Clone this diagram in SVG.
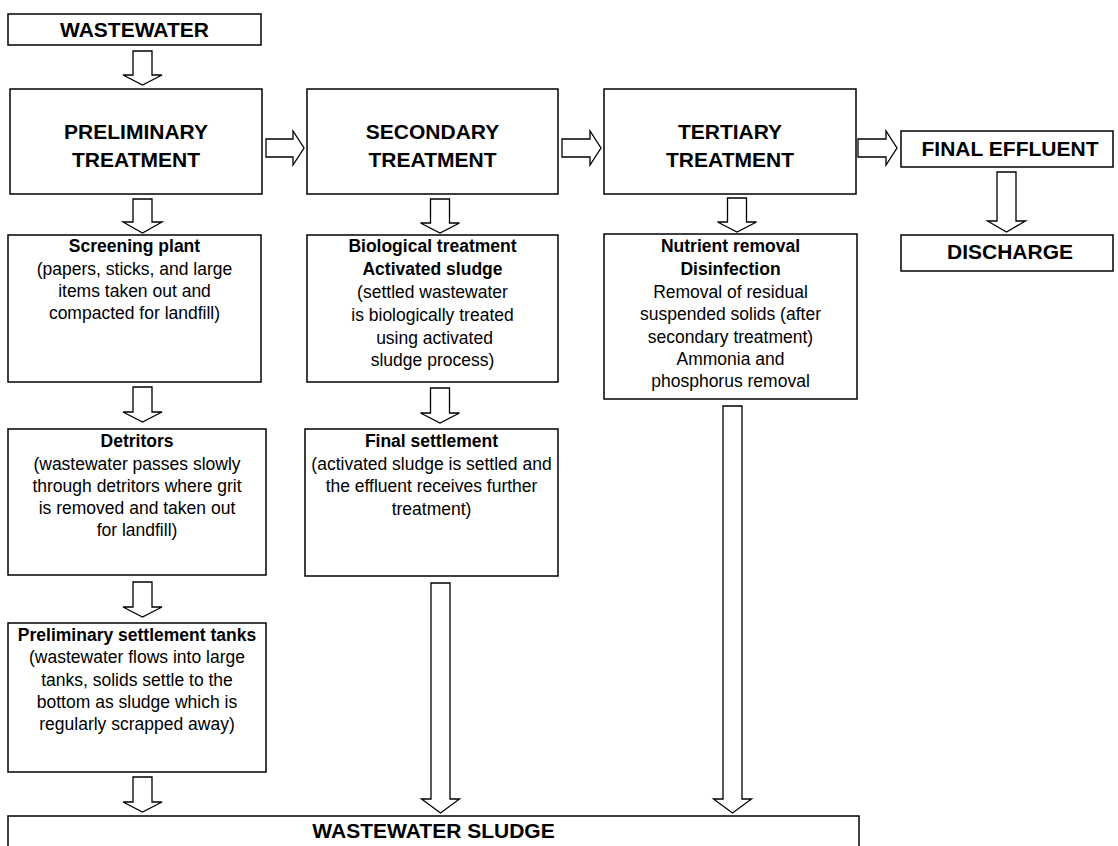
<svg xmlns="http://www.w3.org/2000/svg" width="1118" height="846" viewBox="0 0 1118 846">
<style>
.box{fill:#fff;stroke:#000;stroke-width:1.5}
.arr{fill:#fff;stroke:#000;stroke-width:1.3;stroke-linejoin:miter}
text{font-family:"Liberation Sans",Arial,sans-serif;fill:#000;text-anchor:middle}
.h{font-size:21px;font-weight:bold}
.b{font-size:17.5px;font-weight:bold}
.n{font-size:17.5px}
</style>
<rect width="1118" height="846" fill="#fff"/>
<g id="connectors">
<polygon class="arr" points="133,51 152,51 152,75 162,75 142.5,85 123,75 133,75"/>
<polygon class="arr" points="133,199 152,199 152,222 162,222 142.5,233 123,222 133,222"/>
<polygon class="arr" points="133,387 152,387 152,412 162,412 142.5,422 123,412 133,412"/>
<polygon class="arr" points="133,582 152,582 152,607 162,607 142.5,617 123,607 133,607"/>
<polygon class="arr" points="133,777 152,777 152,802 162,802 142.5,812 123,802 133,802"/>
<polygon class="arr" points="430.5,199 449.5,199 449.5,223 459.5,223 440,233 420.5,223 430.5,223"/>
<polygon class="arr" points="430.5,388 449.5,388 449.5,413 459.5,413 440,423 420.5,413 430.5,413"/>
<polygon class="arr" points="431,583 450,583 450,799 459.5,799 440.5,813 421.5,799 431,799"/>
<polygon class="arr" points="727.5,198 746.5,198 746.5,222 756.5,222 737,232 717.5,222 727.5,222"/>
<polygon class="arr" points="723,406 742,406 742,799 751.5,799 732.5,813 713.5,799 723,799"/>
<polygon class="arr" points="997,172 1016,172 1016,221 1025.5,221 1006.5,232 987.5,221 997,221"/>
<polygon class="arr" points="266,139 293,139 293,131 304,148 293,165 293,157 266,157"/>
<polygon class="arr" points="562,139 590,139 590,131 601,148 590,165 590,157 562,157"/>
<polygon class="arr" points="858,139 886,139 886,131 897,148 886,165 886,157 858,157"/>
</g>
<g id="wastewater">
<rect class="box" x="8" y="14" width="253" height="31"/>
<text class="h" x="134.5" y="37">WASTEWATER</text>
</g>
<g id="preliminary">
<rect class="box" x="10" y="89" width="252" height="105"/>
<text class="h" x="136" y="139">PRELIMINARY</text>
<text class="h" x="136" y="167">TREATMENT</text>
</g>
<g id="secondary">
<rect class="box" x="307" y="89" width="251" height="105"/>
<text class="h" x="432.5" y="139">SECONDARY</text>
<text class="h" x="432.5" y="167">TREATMENT</text>
</g>
<g id="tertiary">
<rect class="box" x="604" y="89" width="252" height="105"/>
<text class="h" x="730" y="139">TERTIARY</text>
<text class="h" x="730" y="167">TREATMENT</text>
</g>
<g id="final-effluent">
<rect class="box" x="901" y="131" width="212" height="36"/>
<text class="h" x="1010" y="156">FINAL EFFLUENT</text>
</g>
<g id="discharge">
<rect class="box" x="901" y="235" width="212" height="36"/>
<text class="h" x="1010" y="259">DISCHARGE</text>
</g>
<g id="screening">
<rect class="box" x="8" y="235" width="253" height="147"/>
<text class="b" x="134.5" y="252">Screening plant</text>
<text class="n" x="134.5" y="275">(papers, sticks, and large</text>
<text class="n" x="134.5" y="297">items taken out and</text>
<text class="n" x="134.5" y="319">compacted for landfill)</text>
</g>
<g id="detritors">
<rect class="box" x="8" y="429" width="258" height="146"/>
<text class="b" x="137" y="447">Detritors</text>
<text class="n" x="137" y="470">(wastewater passes slowly</text>
<text class="n" x="137" y="492">through detritors where grit</text>
<text class="n" x="137" y="514">is removed and taken out</text>
<text class="n" x="137" y="536">for landfill)</text>
</g>
<g id="preliminary-settlement">
<rect class="box" x="8" y="623" width="258" height="149"/>
<text class="b" x="137" y="641">Preliminary settlement tanks</text>
<text class="n" x="137" y="663">(wastewater flows into large</text>
<text class="n" x="137" y="686">tanks, solids settle to the</text>
<text class="n" x="137" y="708">bottom as sludge which is</text>
<text class="n" x="137" y="730">regularly scrapped away)</text>
</g>
<g id="biological">
<rect class="box" x="307" y="235" width="251" height="147"/>
<text class="b" x="432.5" y="252">Biological treatment</text>
<text class="b" x="432.5" y="275">Activated sludge</text>
<text class="n" x="432.5" y="298">(settled wastewater</text>
<text class="n" x="432.5" y="321">is biologically treated</text>
<text class="n" x="434.5" y="344">using activated</text>
<text class="n" x="432.5" y="366">sludge process)</text>
</g>
<g id="final-settlement">
<rect class="box" x="305" y="429" width="253" height="147"/>
<text class="b" x="431.5" y="447">Final settlement</text>
<text class="n" x="431.5" y="470">(activated sludge is settled and</text>
<text class="n" x="431.5" y="492">the effluent receives further</text>
<text class="n" x="431.5" y="515">treatment)</text>
</g>
<g id="nutrient">
<rect class="box" x="604" y="234" width="253" height="165"/>
<text class="b" x="730.5" y="252">Nutrient removal</text>
<text class="b" x="730.5" y="275">Disinfection</text>
<text class="n" x="730.5" y="298">Removal of residual</text>
<text class="n" x="730.5" y="320">suspended solids (after</text>
<text class="n" x="730.5" y="343">secondary treatment)</text>
<text class="n" x="730.5" y="365">Ammonia and</text>
<text class="n" x="730.5" y="387">phosphorus removal</text>
</g>
<g id="sludge">
<rect class="box" x="8" y="816" width="851" height="40"/>
<text class="h" x="433.5" y="838">WASTEWATER SLUDGE</text>
</g>
</svg>
